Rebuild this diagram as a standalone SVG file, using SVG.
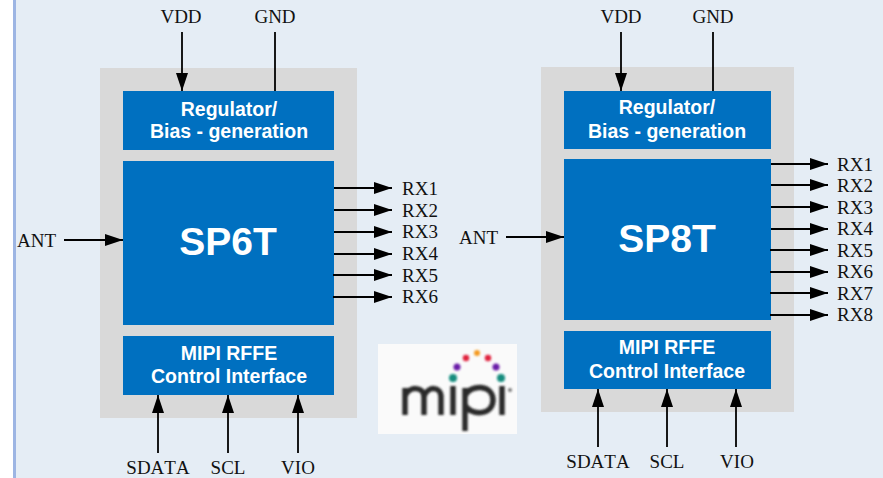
<svg xmlns="http://www.w3.org/2000/svg" width="883" height="478" viewBox="0 0 883 478">
<style>
.l{font:19px "Liberation Serif",serif;fill:#111;font-kerning:none}
.t{font:bold 19.5px "Liberation Sans",Arial,sans-serif;fill:#fff;text-anchor:middle}
.h{font:bold 39px "Liberation Sans",Arial,sans-serif;fill:#fff;text-anchor:middle}
.c{text-anchor:middle}
.b{fill:#0070c0}
.g{fill:#d9d9d9}
.w{stroke:#000;stroke-width:1.8;fill:none}
</style>
<defs>
<marker id="a" markerUnits="userSpaceOnUse" markerWidth="18" markerHeight="12" refX="18" refY="6" orient="auto"><path d="M0 0L18 6L0 12Z" fill="#000"/></marker>
<filter id="bl" x="-10%" y="-10%" width="120%" height="120%"><feGaussianBlur stdDeviation="1"/></filter>
</defs>
<rect width="883" height="478" fill="#e5edf5"/>
<rect x="0" y="0" width="13" height="478" fill="#fff"/>
<rect x="13" y="0" width="3" height="478" fill="#9db5e3"/>

<g id="device-left">
<rect class="g" x="100" y="68" width="257" height="350"/>
</g>
<g id="regulator-left"><rect class="b" x="123" y="91" width="211" height="59"/><text class="t" x="229" y="116">Regulator/</text><text class="t" x="229" y="138">Bias - generation</text></g>
<g id="sp6t"><rect class="b" x="123" y="161" width="211" height="164"/><text class="h" x="228" y="255">SP6T</text></g>
<g id="mipi-left"><rect class="b" x="123" y="336" width="211" height="59"/><text class="t" x="229" y="360">MIPI RFFE</text><text class="t" x="229" y="383">Control Interface</text></g>

<g id="device-right">
<rect class="g" x="541" y="67" width="253" height="345"/>
</g>
<g id="regulator-right"><rect class="b" x="564" y="91" width="207" height="58"/><text class="t" x="667" y="114">Regulator/</text><text class="t" x="667" y="138">Bias - generation</text></g>
<g id="sp8t"><rect class="b" x="564" y="159" width="207" height="161"/><text class="h" x="667" y="252">SP8T</text></g>
<g id="mipi-right"><rect class="b" x="564" y="331" width="207" height="58"/><text class="t" x="667" y="354">MIPI RFFE</text><text class="t" x="667" y="378">Control Interface</text></g>

<g id="connectors" class="w" marker-end="url(#a)">
<path d="M182 32V91"/><path d="M275 32V91" marker-end="none"/>
<path d="M64 240H123"/>
<path d="M334 188H392"/><path d="M334 210H392"/><path d="M334 232H392"/><path d="M334 254H392"/><path d="M333 275H392"/><path d="M333 297H392"/>
<path d="M158 453V395"/><path d="M228 453V395"/><path d="M298 453V395"/>
<path d="M621 32V91"/><path d="M713 32V91" marker-end="none"/>
<path d="M506 237H564"/>
<path d="M771 164H828"/><path d="M771 185H828"/><path d="M771 207H828"/><path d="M771 229H828"/><path d="M770 250H828"/><path d="M770 272H828"/><path d="M770 293H828"/><path d="M770 315H828"/>
<path d="M598 447V389"/><path d="M667 447V389"/><path d="M736 447V389"/>
</g>

<g id="labels-left">
<text class="l c" x="181" y="23">VDD</text><text class="l c" x="275" y="23">GND</text>
<text class="l" x="17" y="247">ANT</text>
<text class="l" x="402" y="195">RX1</text><text class="l" x="402" y="217">RX2</text><text class="l" x="402" y="238">RX3</text><text class="l" x="402" y="260">RX4</text><text class="l" x="402" y="282">RX5</text><text class="l" x="402" y="303">RX6</text>
<text class="l c" x="158" y="473.8">SDATA</text><text class="l c" x="228" y="473.8">SCL</text><text class="l c" x="298" y="473.8">VIO</text>
</g>
<g id="labels-right">
<text class="l c" x="621" y="23">VDD</text><text class="l c" x="713" y="23">GND</text>
<text class="l" x="459" y="244">ANT</text>
<text class="l" x="837" y="171">RX1</text><text class="l" x="837" y="192">RX2</text><text class="l" x="837" y="214">RX3</text><text class="l" x="837" y="235">RX4</text><text class="l" x="837" y="257">RX5</text><text class="l" x="837" y="278">RX6</text><text class="l" x="837" y="300">RX7</text><text class="l" x="837" y="321">RX8</text>
<text class="l c" x="598" y="468">SDATA</text><text class="l c" x="667" y="468">SCL</text><text class="l c" x="737" y="468">VIO</text>
</g>

<g id="mipi-logo">
<rect x="378" y="344" width="139" height="90" fill="#fafafa"/>
<g filter="url(#bl)">
<circle cx="453" cy="378" r="4" fill="#128c7e"/><circle cx="457" cy="367" r="3.5" fill="#6a1fa8"/><circle cx="466" cy="358" r="3.2" fill="#e0203c"/><circle cx="477" cy="353" r="3" fill="#f59a23"/><circle cx="488" cy="358" r="3.2" fill="#e0203c"/><circle cx="496" cy="367" r="3.5" fill="#6a1fa8"/><circle cx="501" cy="378" r="4" fill="#128c7e"/>
<g fill="none" stroke="#2b2b2b" stroke-width="5.5">
<path d="M405 415V388M405 396C409 386 424 386 424 397V415M424 396C428 386 441 386 441 397V415"/>
<path d="M453 386V415"/>
<path d="M465 431V388M465 396C470 384 493 384 493 400C493 416 470 416 465 405"/>
<path d="M502 386V415"/>
</g>
<circle cx="510" cy="390" r="2" fill="#777"/>
</g>
</g>
</svg>
